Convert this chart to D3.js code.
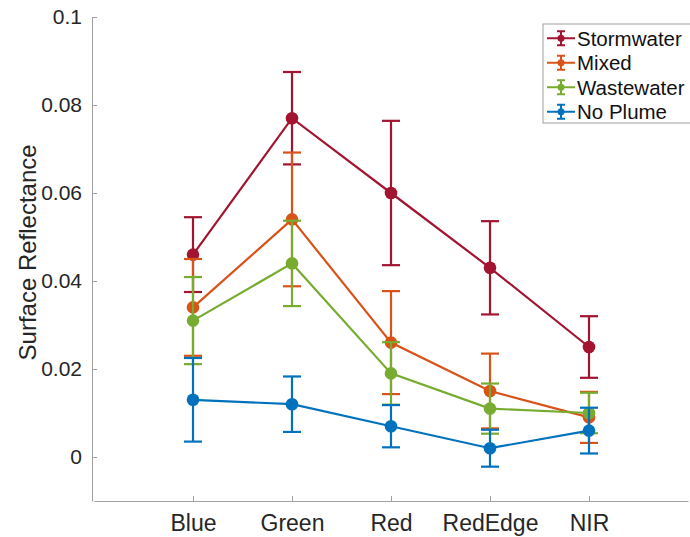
<!DOCTYPE html>
<html>
<head>
<meta charset="utf-8">
<script src="https://cdn.jsdelivr.net/npm/d3@7"></script>
<style>
  body { margin: 0; background: #fff; }
  text { font-family: "Liberation Sans", Arial, sans-serif; }
</style>
</head>
<body>
<div id="chart"></div>
<script>
const bands = ['Blue', 'Green', 'Red', 'RedEdge', 'NIR'];
const seriesNames = ['Stormwater', 'Mixed', 'Wastewater', 'No Plume'];
const seriesColors = ['#A2142F', '#D95319', '#77AC30', '#0072BD'];

const stormwaterMean = [0.046, 0.077, 0.060, 0.043, 0.025];
const stormwaterErr = [0.0085, 0.0105, 0.0164, 0.0106, 0.007];
const mixedMean = [0.034, 0.054, 0.026, 0.015, 0.009];
const mixedErr = [0.011, 0.0152, 0.0117, 0.0085, 0.0058];
const wastewaterMean = [0.031, 0.044, 0.019, 0.011, 0.010];
const wastewaterErr = [0.0099, 0.0097, 0.0071, 0.0057, 0.0046];
const noPlumeMean = [0.013, 0.012, 0.007, 0.002, 0.006];
const noPlumeErr = [0.0095, 0.0063, 0.0048, 0.0042, 0.0052];

const yTicks = [0, 0.02, 0.04, 0.06, 0.08, 0.1];

const means = [stormwaterMean, mixedMean, wastewaterMean, noPlumeMean];
const errs = [stormwaterErr, mixedErr, wastewaterErr, noPlumeErr];

const series = seriesNames.map((name, i) => ({
  name: name,
  color: seriesColors[i],
  values: bands.map((b, j) => ({ band: j + 1, mean: means[i][j], err: errs[i][j] })),
}));

const width = 690;
const height = 537;

const xScale = d3.scaleLinear().domain([0, 6]).range([94, 688]);
const yScale = d3.scaleLinear().domain([-0.01, 0.1]).range([501, 17]);

const svg = d3
  .select('#chart')
  .append('svg')
  .attr('width', width)
  .attr('height', height);

const axisColor = '#a0a0a0';
const labelColor = '#262626';

// x axis
const xAxis = svg
  .append('g')
  .attr('transform', `translate(0, ${yScale(-0.01)})`)
  .call(
    d3.axisBottom(xScale)
      .tickValues([1, 2, 3, 4, 5])
      .tickFormat((d) => bands[d - 1])
      .tickSizeInner(-5)
      .tickSizeOuter(0)
      .tickPadding(14)
  );
xAxis.select('.domain').attr('stroke', axisColor);
xAxis.selectAll('.tick line').attr('stroke', axisColor);
xAxis.selectAll('text').attr('fill', labelColor).style('font-size', '23px');

// y axis
const yAxis = svg
  .append('g')
  .attr('transform', `translate(${xScale(0) - 2}, 0)`)
  .call(
    d3.axisLeft(yScale)
      .tickValues(yTicks)
      .tickFormat((d) => (d === 0 ? '0' : d3.format('.2~f')(d)))
      .tickSizeInner(-5)
      .tickSizeOuter(0)
      .tickPadding(10)
  );
yAxis.select('.domain').attr('stroke', axisColor);
yAxis.selectAll('.tick line').attr('stroke', axisColor);
yAxis.selectAll('text').attr('fill', labelColor).style('font-size', '21px');

// y axis label
svg
  .append('text')
  .attr('transform', `translate(36, ${yScale(0.0465)}) rotate(-90)`)
  .attr('text-anchor', 'middle')
  .attr('fill', labelColor)
  .style('font-size', '24px')
  .text('Surface Reflectance');

const line = d3
  .line()
  .x((d) => xScale(d.band))
  .y((d) => yScale(d.mean));

const capHalf = 9;

// Render series
series.forEach((s) => {
  const g = svg.append('g');

  g.append('path')
    .datum(s.values)
    .attr('d', line)
    .attr('fill', 'none')
    .attr('stroke', s.color)
    .attr('stroke-width', 2.2);

  const bars = g.selectAll('.err').data(s.values).join('g');

  bars
    .append('line')
    .attr('x1', (d) => xScale(d.band))
    .attr('x2', (d) => xScale(d.band))
    .attr('y1', (d) => yScale(d.mean - d.err))
    .attr('y2', (d) => yScale(d.mean + d.err))
    .attr('stroke', s.color)
    .attr('stroke-width', 2.2);

  [1, -1].forEach((sign) => {
    bars
      .append('line')
      .attr('x1', (d) => xScale(d.band) - capHalf)
      .attr('x2', (d) => xScale(d.band) + capHalf)
      .attr('y1', (d) => yScale(d.mean + sign * d.err))
      .attr('y2', (d) => yScale(d.mean + sign * d.err))
      .attr('stroke', s.color)
      .attr('stroke-width', 2.2);
  });

  g.selectAll('circle')
    .data(s.values)
    .join('circle')
    .attr('cx', (d) => xScale(d.band))
    .attr('cy', (d) => yScale(d.mean))
    .attr('r', 6.3)
    .attr('fill', s.color);
});

// Legend
const legend = svg.append('g').attr('transform', 'translate(543, 24)');
legend
  .append('rect')
  .attr('width', 150)
  .attr('height', 99)
  .attr('fill', '#fff')
  .attr('stroke', axisColor);

const legendY = d3.scaleBand().domain(seriesNames).range([2, 100]);

series.forEach((s) => {
  const item = legend
    .append('g')
    .attr('transform', `translate(0, ${legendY(s.name) + legendY.bandwidth() / 2})`);
  item.append('line').attr('x1', 4).attr('x2', 32).attr('stroke', s.color).attr('stroke-width', 2);
  item.append('line').attr('x1', 18).attr('x2', 18).attr('y1', -7).attr('y2', 7).attr('stroke', s.color).attr('stroke-width', 2);
  item.append('line').attr('x1', 14).attr('x2', 22).attr('y1', -7).attr('y2', -7).attr('stroke', s.color).attr('stroke-width', 2);
  item.append('line').attr('x1', 14).attr('x2', 22).attr('y1', 7).attr('y2', 7).attr('stroke', s.color).attr('stroke-width', 2);
  item.append('circle').attr('cx', 18).attr('r', 3.5).attr('fill', s.color);
  item
    .append('text')
    .attr('x', 34)
    .attr('dy', '0.36em')
    .attr('fill', '#111')
    .style('font-size', '20.5px')
    .text(s.name);
});
</script>
</body>
</html>
